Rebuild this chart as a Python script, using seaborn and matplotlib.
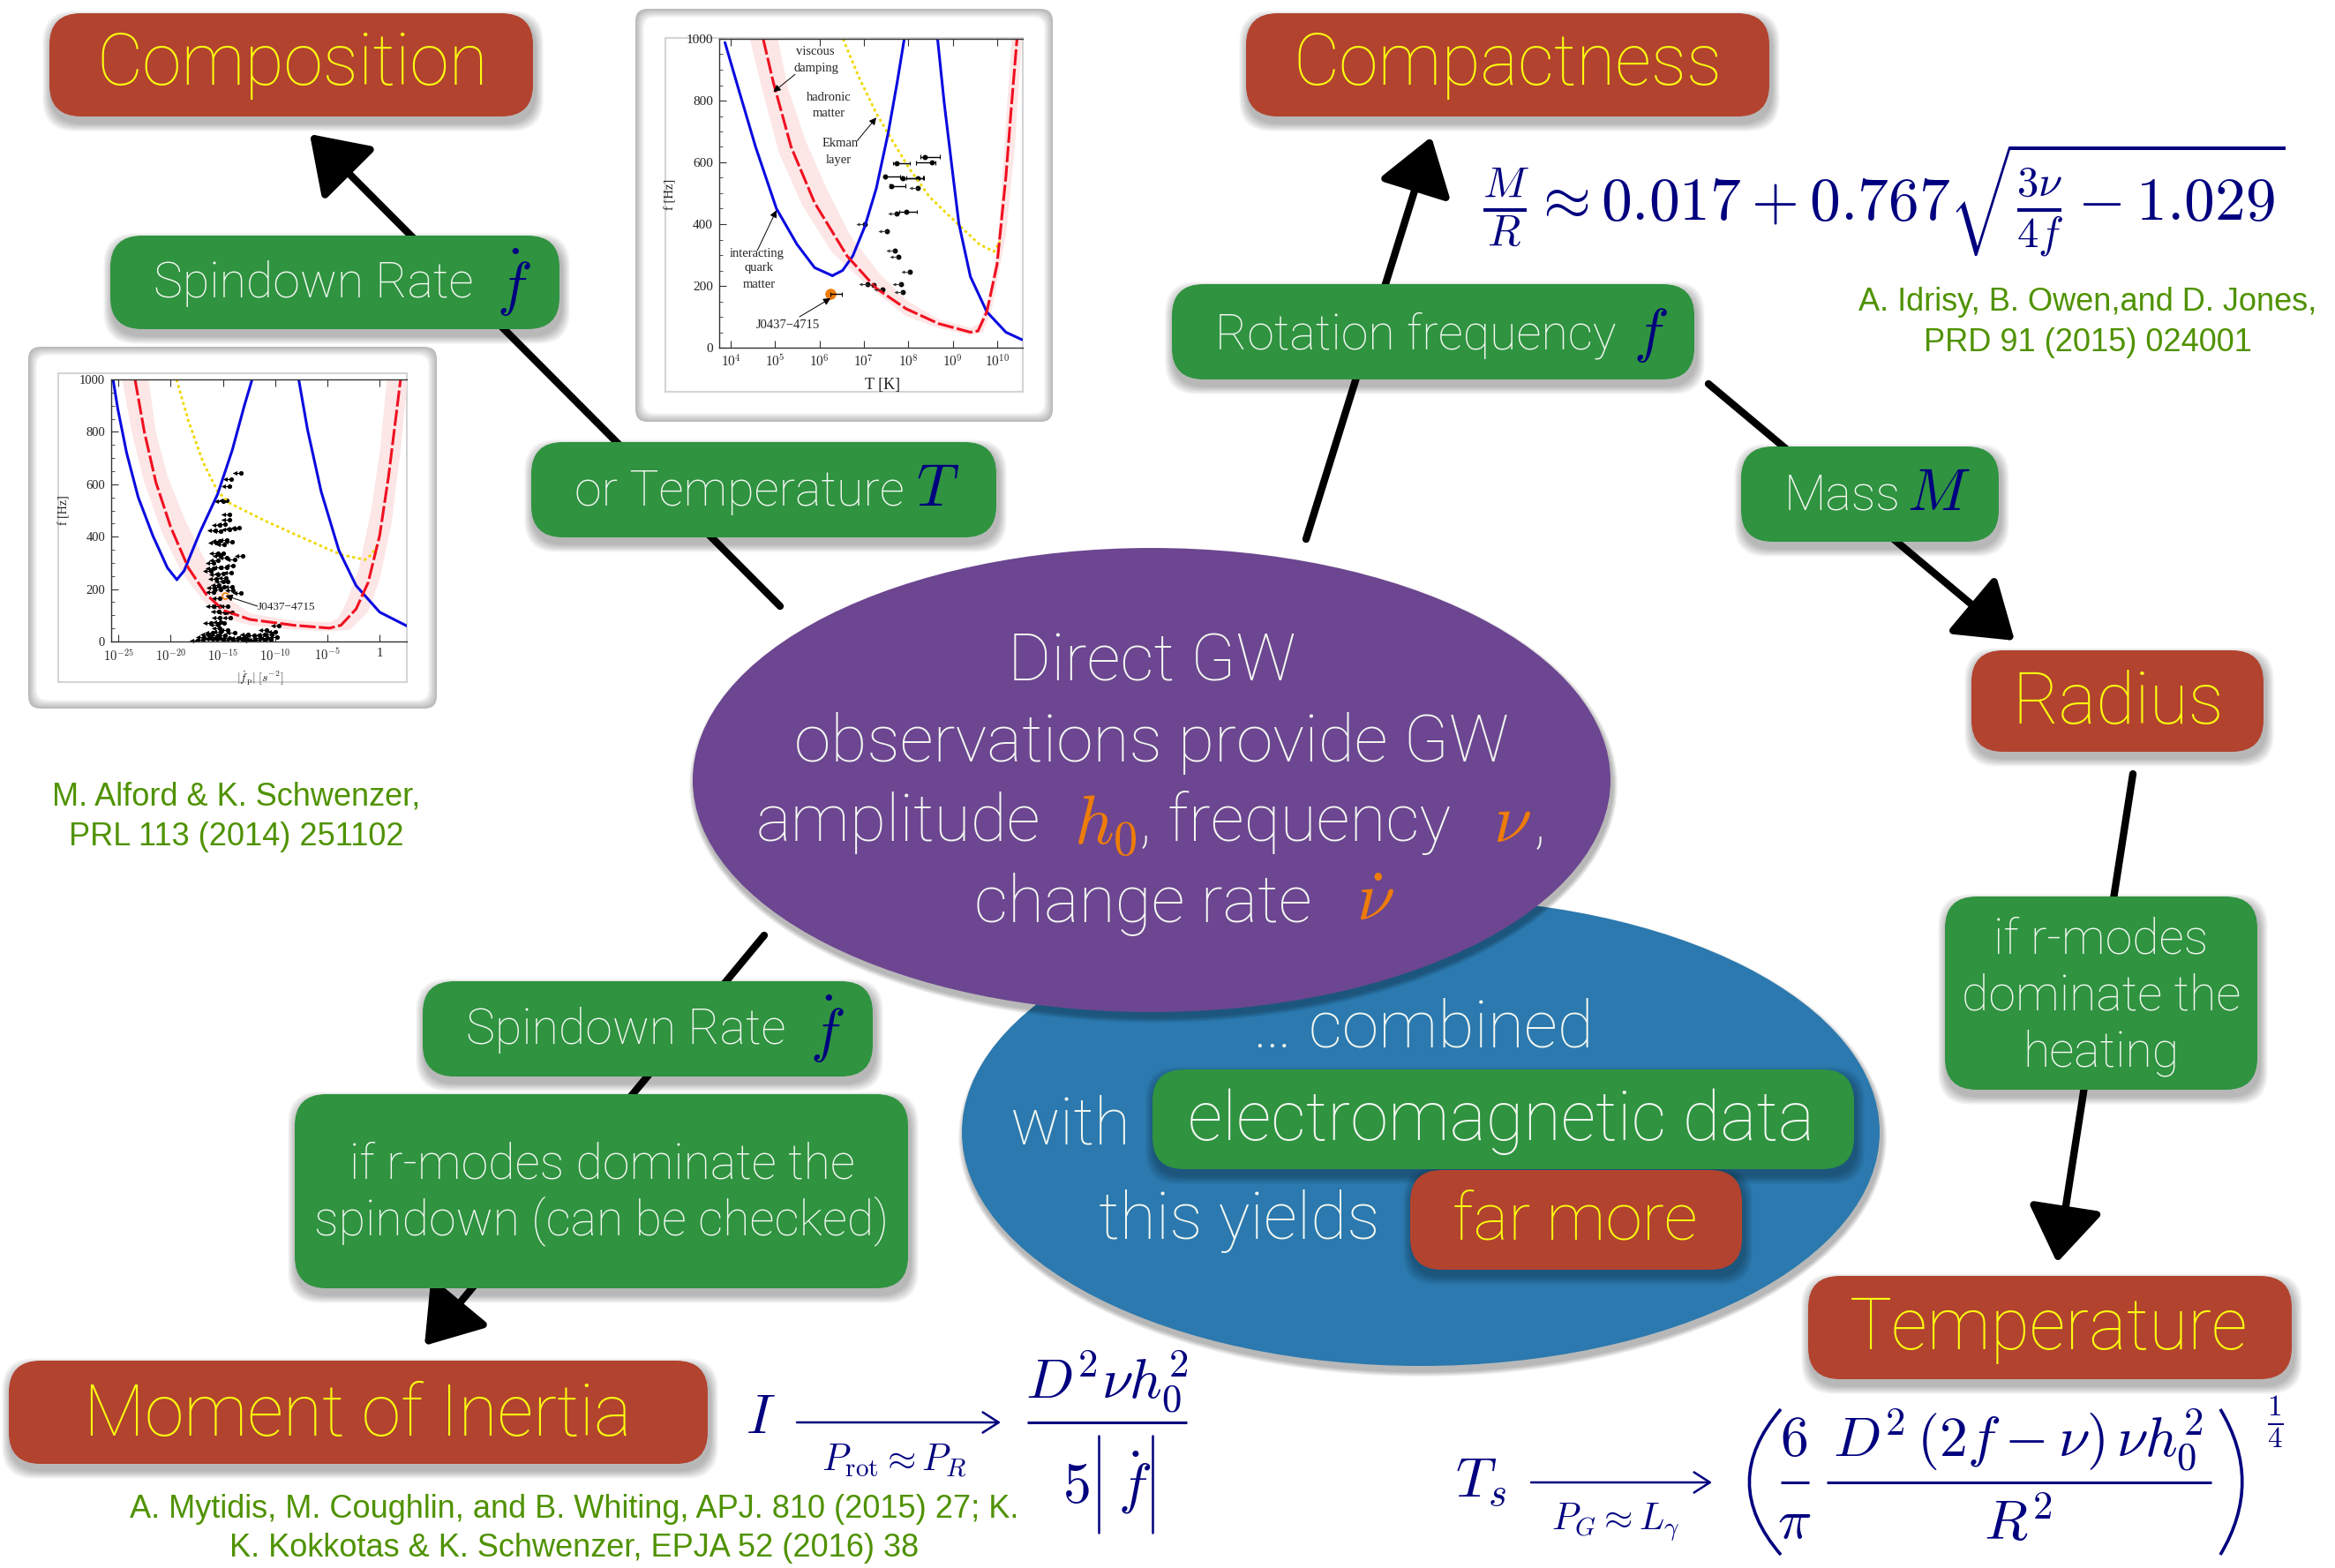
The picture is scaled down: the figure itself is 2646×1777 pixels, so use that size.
import matplotlib
matplotlib.use("Agg")
import numpy as np
import matplotlib.pyplot as plt
import seaborn as sns
from matplotlib.patches import FancyBboxPatch, Ellipse, FancyArrowPatch, PathPatch, Rectangle
from matplotlib.path import Path

# --- left plot: f vs |fdot| (log10 of x axis) ---
fd_blue_a_x = [-25.5, -25.05, -24.2, -23.1, -21.7, -20.3, -19.4]
fd_blue_a_y = [1000, 888, 719, 551, 404, 281, 236]
fd_blue_b_x = [-19.4, -18.7, -17.2, -15.5, -14.1, -12.95, -12.2]
fd_blue_b_y = [236, 270, 416, 562, 730, 899, 1000]
fd_blue_c_x = [-7.74, -6.9, -5.6, -3.9, -2.25, 0, 2.67]
fd_blue_c_y = [1000, 809, 573, 348, 213, 112, 58]
fd_red_x = [-23.4, -22.5, -21.4, -20, -18.3, -16.6, -14.9, -12.4, -8.2, -4.8, -3.7, -2.25, -1.1, 0, 0.85, 1.55, 2.0]
fd_red_y = [1000, 798, 607, 438, 281, 180, 118, 84, 62, 51, 62, 124, 225, 404, 629, 854, 1000]
fd_band_x = [-24.63, -23.65, -22.52, -20.83, -18.86, -16.89, -14.92, -12.39, -8.16, -4.79, -2.82, -1.13, 0, 1.13, 1.97, 2.67,
             0.7, 0, -0.84, -1.97, -3.1, -3.94, -4.79, -8.16, -12.39, -14.92, -16.61, -18.58, -20.27, -21.4, -22.1]
fd_band_y = [1000, 787, 607, 416, 258, 157, 90, 62, 45, 39, 45, 112, 236, 449, 719, 1000,
             1000, 719, 494, 281, 157, 90, 73, 79, 107, 180, 303, 461, 629, 798, 1000]
fd_yellow_x = [-19.43, -18.3, -16.9, -15.5, -14.35, -10.98, -8.16, -5.35, -3.66, -1.41, -0.79, -0.14]
fd_yellow_y = [1000, 843, 685, 573, 528, 461, 410, 360, 331, 312, 331, 371]
fd_pulsar_x = [-13.3, -14.2, -14.35, -14.6, -15.0, -14.4, -14.4, -14.8, -15.3, -13.4, -13.9, -14.4, -15.2, -15.7,
               -14.6, -14.1, -15.3, -15.6, -14.9, -15.0, -15.5, -15.2, -13.1, -14.6, -13.9, -15.5, -15.9, -14.0,
               -14.6, -15.2, -15.9, -16.1, -14.2, -15.0, -15.5, -14.7, -15.6, -15.0, -14.5, -15.4, -14.9, -14.1,
               -15.8, -13.3, -14.0, -15.2, -15.9, -15.3, -14.5, -15.3, -15.9, -14.8, -15.4, -14.1, -14.3, -15.3,
               -15.2, -14.9, -16.1, -15.5, -15.3, -9.6, -10.8, -10.0, -14.5, -15.2, -16.0, -16.4, -13.9, -15.5,
               -14.8, -16.8, -17.4, -16.9, -16.0, -15.0, -14.0, -13.1, -12.6, -12.0, -11.5, -11.0, -10.3, -11.4,
               -10.7, -12.7, -11.9, -11.0, -10.4, -9.8, -12.3, -15.6, -16.3, -15.3, -14.4, -13.5, -12.9]
fd_pulsar_y = [643, 621, 592, 539, 535, 486, 463, 449, 446, 436, 431, 427, 421, 425,
               388, 382, 384, 376, 372, 337, 337, 326, 326, 320, 312, 310, 298, 289,
               283, 283, 280, 268, 263, 260, 255, 243, 238, 228, 228, 215, 210, 208,
               205, 185, 195, 198, 188, 165, 135, 135, 135, 110, 113, 112, 90, 90,
               75, 72, 70, 65, 52, 62, 45, 38, 45, 38, 35, 28, 32, 25,
               22, 18, 5, 8, 10, 8, 6, 8, 27, 22, 25, 26, 28, 14,
               12, 10, 8, 8, 7, 18, 4, 14, 12, 15, 14, 14, 16]
fd_j0437 = (-14.75, 175)

# --- top plot: f vs T (log10 of x axis) ---
t_blue_a_x = [3.87, 4.17, 4.56, 5.03, 5.49, 5.89, 6.29]
t_blue_a_y = [988, 840, 650, 450, 335, 259, 233]
t_blue_b_x = [6.29, 6.52, 6.75, 7.02, 7.28, 7.55, 7.75, 7.91]
t_blue_b_y = [233, 250, 297, 392, 516, 697, 859, 1000]
t_blue_c_x = [8.66, 8.81, 9.01, 9.14, 9.4, 9.77, 10.2, 10.56]
t_blue_c_y = [1000, 792, 554, 402, 230, 116, 50, 26]
t_red_x = [4.73, 4.96, 5.36, 5.89, 6.62, 7.28, 7.95, 8.68, 9.4, 9.57, 9.77, 10.0, 10.2, 10.33, 10.45]
t_red_y = [1000, 859, 650, 469, 297, 192, 126, 78, 50, 54, 116, 269, 554, 792, 1000]
t_band_x = [4.43, 4.7, 5.09, 5.62, 6.29, 7.08, 7.95, 8.68, 9.4, 9.67, 9.87, 10.2, 10.4, 10.56,
            10.33, 10.2, 10.03, 9.84, 9.6, 9.4, 8.68, 7.95, 7.35, 6.69, 6.16, 5.69, 5.29, 5.06]
t_band_y = [1000, 840, 630, 459, 307, 202, 102, 64, 40, 50, 116, 364, 650, 1000,
            1000, 726, 364, 173, 78, 64, 92, 154, 240, 364, 516, 669, 840, 1000]
t_yellow_x = [6.53, 6.88, 7.28, 7.61, 8.01, 8.48, 9.14, 9.6, 9.93, 10.07]
t_yellow_y = [1000, 878, 759, 678, 583, 488, 397, 335, 311, 345]
t_range_x = [8.38, 7.73, 8.53, 7.48, 7.88, 8.21, 7.61, 7.95, 6.25]
t_range_y = [618, 597, 599, 554, 549, 549, 524, 440, 173]
t_range_lo = [8.28, 7.65, 8.18, 7.48, 7.85, 7.95, 7.58, 7.80, 6.25]
t_range_hi = [8.71, 8.03, 8.61, 7.81, 8.34, 8.36, 7.93, 8.20, 6.51]
t_limit_x = [8.21, 7.73, 7.03, 7.51, 7.69, 7.78, 8.03, 7.08, 7.22, 7.41, 7.83, 7.88]
t_limit_y = [516, 434, 400, 376, 313, 293, 245, 205, 202, 188, 205, 181]

f_ticks = [0, 200, 400, 600, 800, 1000]
fd_ticks = [-25, -20, -15, -10, -5, 0]
fd_tick_labels = ["$10^{-25}$", "$10^{-20}$", "$10^{-15}$", "$10^{-10}$", "$10^{-5}$", "1"]
t_ticks = [4, 5, 6, 7, 8, 9, 10]
t_tick_labels = ["$10^{4}$", "$10^{5}$", "$10^{6}$", "$10^{7}$", "$10^{8}$", "$10^{9}$", "$10^{10}$"]

W, H = 2646, 1777
RED = "#b2432f"
GREEN = "#2f9340"
PURPLE = "#6c4690"
BLUE = "#2b79ae"
YELLOW = "#fbfb10"
WHITE = "#f4f8f2"
NAVY = "#00007f"
CITE = "#4f9200"
ORANGE = "#ee7c0a"
CURVE_BLUE = "#0a0ae0"
CURVE_RED = "#f01020"
CURVE_YEL = "#f0d800"
BAND = "#fde6e6"

sns.set_theme(style="white")
plt.rcParams["font.family"] = ["Roboto", "DejaVu Sans"]
plt.rcParams["font.weight"] = "light"
plt.rcParams["mathtext.fontset"] = "cm"

fig = plt.figure(figsize=(W / 100, H / 100), dpi=100, facecolor="white")
main = fig.add_axes([0, 0, 1, 1])
main.set_xlim(0, W)
main.set_ylim(H, 0)
main.axis("off")


def shadow(make_patch, steps=6):
    # soft drop shadow from stacked translucent copies
    for i in range(steps):
        main.add_patch(make_patch(i, steps))


def box(x0, y0, x1, y1, color, z=5, r=36):
    def ghost(i, n):
        grow = (n - i) * 1.6
        return FancyBboxPatch((x0 - grow + 2, y0 - grow + 7), x1 - x0 + 2 * grow, y1 - y0 + 2 * grow,
                              boxstyle=f"round,pad=0,rounding_size={r}", fc="black", ec="none",
                              alpha=0.05, zorder=z - 0.5)
    shadow(ghost)
    main.add_patch(FancyBboxPatch((x0, y0), x1 - x0, y1 - y0, boxstyle=f"round,pad=0,rounding_size={r}",
                                  fc=color, ec="none", zorder=z))


def oval(cx, cy, w, h, color, z):
    def ghost(i, n):
        grow = (n - i) * 2.0
        return Ellipse((cx + 2, cy + 6), w + grow, h + grow, fc="black", ec="none", alpha=0.05, zorder=z - 0.5)
    shadow(ghost)
    main.add_patch(Ellipse((cx, cy), w, h, fc=color, ec="none", zorder=z))


def label(x, y, s, color=WHITE, size=40, ha="center", z=8, **kw):
    main.text(x, y, s, color=color, fontsize=size, ha=ha, va="center", zorder=z, **kw)


def arrow(x0, y0, x1, y1):
    main.add_patch(FancyArrowPatch((x0, y0), (x1, y1), arrowstyle="-|>,head_length=0.62,head_width=0.42",
                                   mutation_scale=62, lw=6, color="black", shrinkA=0, shrinkB=0, zorder=2))


def frame(x0, y0, x1, y1, ix0, iy0, ix1, iy1):
    # screenshot style rounded frame with a grey inner glow
    for i in range(10):
        g = 0.72 + 0.028 * i
        main.add_patch(FancyBboxPatch((x0 + i, y0 + i), x1 - x0 - 2 * i, y1 - y0 - 2 * i,
                                      boxstyle="round,pad=0,rounding_size=14", fc=(g, g, g), ec="none", zorder=1))
    main.add_patch(FancyBboxPatch((x0 + 10, y0 + 10), x1 - x0 - 20, y1 - y0 - 20,
                                  boxstyle="round,pad=0,rounding_size=10", fc="white", ec="none", zorder=1))
    main.add_patch(Rectangle((ix0, iy0), ix1 - ix0, iy1 - iy0, fc="white", ec="#d4d4d4", lw=1.5, zorder=1.2))


def px_axes(x0, y0, x1, y1):
    ax = fig.add_axes([x0 / W, 1 - y1 / H, (x1 - x0) / W, (y1 - y0) / H])
    ax.patch.set_alpha(0)
    return ax


def curve(ax, x, y, color, **kw):
    sns.lineplot(x=x, y=y, ax=ax, color=color, sort=False, estimator=None, legend=False, **kw)


def style_inset(ax, xlim, ticks, tick_labels, size):
    ax.set_xlim(*xlim)
    ax.set_ylim(0, 1000)
    ax.set_xticks(ticks, tick_labels)
    ax.set_yticks(f_ticks, [str(v) for v in f_ticks])
    ax.set_yticks(np.arange(0, 1001, 50), minor=True)
    ax.tick_params(axis="both", which="major", length=6, width=0.8, color="#333333", labelsize=size,
                   labelcolor="#222222", direction="in", pad=5, bottom=True, left=True, top=True)
    ax.tick_params(axis="y", which="minor", length=3, width=0.6, color="#333333", direction="in", left=True)
    for lab in ax.get_xticklabels() + ax.get_yticklabels():
        lab.set_family("Liberation Serif")
        lab.set_weight("normal")
    for side in ["left", "bottom", "top"]:
        ax.spines[side].set_visible(True)
        ax.spines[side].set_color("#333333")
        ax.spines[side].set_linewidth(1)
    ax.spines["right"].set_visible(False)
    ax.set_xlabel("")
    ax.set_ylabel("")


def serif(x, y, s, size=10.5, rotation=0):
    main.text(x, y, s, family="Liberation Serif", weight="normal", fontsize=size, color="#222222",
              ha="center", va="center", rotation=rotation, zorder=3)


def paren(x_out, x_in, y0, y1, lw=2.6):
    # tall bracket of the temperature formula
    ym = (y0 + y1) / 2
    verts = [(x_in, y0), (x_out - (x_in - x_out) * 0.55, ym), (x_in, y1)]
    main.add_patch(PathPatch(Path(verts, [Path.MOVETO, Path.CURVE3, Path.CURVE3]), fc="none", ec=NAVY, lw=lw, zorder=8))


def math_arrow(x0, x1, y):
    main.add_patch(FancyArrowPatch((x0, y), (x1, y), arrowstyle="->,head_length=0.5,head_width=0.32",
                                   mutation_scale=26, lw=1.8, color=NAVY, shrinkA=0, shrinkB=0, zorder=8))


def rule(x0, x1, y, lw=2.2):
    main.plot([x0, x1], [y, y], color=NAVY, lw=lw, zorder=8, solid_capstyle="butt")


# arrows sit under everything else
arrow(884, 687, 351, 152)
arrow(1480, 611, 1622, 155)
arrow(1936, 435, 2283, 726)
arrow(2417, 877, 2331, 1431)
arrow(866, 1060, 481, 1525)

oval(1610, 1283, 1040, 530, BLUE, 3)
oval(1305, 884, 1040, 526, PURPLE, 4)

# red topic boxes
box(56, 15, 604, 132, RED)
box(1412, 15, 2005, 132, RED)
box(2234, 737, 2565, 852, RED)
box(2049, 1446, 2597, 1563, RED)
box(10, 1542, 802, 1659, RED)
box(1598, 1326, 1974, 1439, RED, z=6)

# green quantity boxes
box(125, 267, 634, 373, GREEN)
box(602, 501, 1129, 609, GREEN)
box(1328, 322, 1920, 430, GREEN)
box(1973, 506, 2265, 614, GREEN)
box(2204, 1016, 2558, 1235, GREEN)
box(479, 1112, 989, 1220, GREEN)
box(334, 1240, 1029, 1460, GREEN)
box(1306, 1212, 2101, 1325, GREEN, z=6)

for x, y, s in [(331, 74, "Composition"), (1708, 74, "Compactness"), (2400, 798, "Radius"),
                (2322, 1507, "Temperature"), (405, 1605, "Moment of Inertia"), (1785, 1385, "far more")]:
    label(x, y, s, color=YELLOW, size=58 if s != "far more" else 54)

label(174, 322, "Spindown Rate", ha="left")
label(582, 320, r"$\dot{f}$", color=NAVY, size=48)
label(651, 557, "or Temperature", ha="left")
label(1063, 555, r"$T$", color=NAVY, size=48)
label(1377, 380, "Rotation frequency", ha="left")
label(1870, 380, r"$f$", color=NAVY, size=48)
label(2022, 562, "Mass", ha="left")
label(2197, 560, r"$M$", color=NAVY, size=48)
label(528, 1168, "Spindown Rate", ha="left")
label(937, 1166, r"$\dot{f}$", color=NAVY, size=48)
for y, s in [(1065, "if r-modes"), (1129, "dominate the"), (1193, "heating")]:
    label(2381, y, s)
label(682, 1320, "if r-modes dominate the")
label(682, 1384, "spindown (can be checked)")

# purple ellipse
label(1305, 751, "Direct GW", size=54)
label(1305, 842, "observations provide GW", size=54)
label(857, 933, "amplitude", size=54, ha="left")
label(1253, 935, r"$h_0$", color=ORANGE, size=56)
label(1291, 933, ", frequency", size=54, ha="left")
label(1713, 933, r"$\nu$", color=ORANGE, size=56)
label(1745, 933, ",", size=54)
label(1104, 1024, "change rate", size=54, ha="left")
label(1558, 1022, r"$\dot{\nu}$", color=ORANGE, size=56)

# blue ellipse
label(1612, 1166, "… combined", size=54)
label(1213, 1276, "with", size=54)
label(1701, 1271, "electromagnetic data", size=56)
label(1404, 1384, "this yields", size=54)

# citations
for x, y, s in [(268, 903, "M. Alford & K. Schwenzer,"), (268, 948, "PRL 113 (2014) 251102"),
                (2366, 343, "A. Idrisy, B. Owen,and D. Jones,"), (2366, 388, "PRD 91 (2015) 024001"),
                (651, 1711, "A. Mytidis, M. Coughlin, and B. Whiting, APJ. 810 (2015) 27; K."),
                (651, 1755, "K. Kokkotas & K. Schwenzer, EPJA 52 (2016) 38")]:
    main.text(x, y, s, color=CITE, fontsize=26, family="Liberation Sans", weight="normal",
              ha="center", va="center", zorder=8)

# formulas
label(2135, 228, r"$\frac{M}{R}\approx 0.017+0.767\sqrt{\frac{3\nu}{4f}-1.029}$", color=NAVY, size=50)

label(862, 1606, r"$I$", color=NAVY, size=46)
math_arrow(903, 1134, 1612)
label(1013, 1656, r"$P_{\mathrm{rot}}\approx P_R$", color=NAVY, size=30)
label(1254, 1566, r"$D^2\nu h_0^2$", color=NAVY, size=46)
rule(1164, 1345, 1612)
label(1254, 1680, r"$5\;\;\dot{f}$", color=NAVY, size=46)
main.plot([1245, 1245], [1627, 1737], color=NAVY, lw=1.8, zorder=8)
main.plot([1306, 1306], [1627, 1737], color=NAVY, lw=1.8, zorder=8)

label(1678, 1680, r"$T_s$", color=NAVY, size=46)
math_arrow(1735, 1940, 1680)
label(1831, 1725, r"$P_G\approx L_\gamma$", color=NAVY, size=30)
paren(1972, 2018, 1597, 1762)
paren(2548, 2502 + 14, 1597, 1762)
label(2033, 1632, r"$6$", color=NAVY, size=46)
rule(2018, 2050, 1680)
label(2033, 1725, r"$\pi$", color=NAVY, size=46)
label(2287, 1632, r"$D^2\,(2f-\nu)\,\nu h_0^2$", color=NAVY, size=46)
rule(2070, 2506, 1680)
label(2287, 1728, r"$R^2$", color=NAVY, size=46)
label(2578, 1612, r"$\frac{1}{4}$", color=NAVY, size=34)

# left plot
frame(32, 393, 495, 803, 66, 423, 461, 773)
ax1 = px_axes(126, 430, 461, 727)
ax1.fill(fd_band_x, fd_band_y, color=BAND, lw=0)
curve(ax1, fd_yellow_x, fd_yellow_y, CURVE_YEL, lw=2, linestyle=(0, (1.2, 1.2)))
curve(ax1, fd_blue_a_x, fd_blue_a_y, CURVE_BLUE, lw=2.2)
curve(ax1, fd_blue_b_x, fd_blue_b_y, CURVE_BLUE, lw=2.2)
curve(ax1, fd_blue_c_x, fd_blue_c_y, CURVE_BLUE, lw=2.2)
curve(ax1, fd_red_x, fd_red_y, CURVE_RED, lw=2.2, linestyle=(0, (6, 1.2)))
ax1.hlines(fd_pulsar_y, np.array(fd_pulsar_x) - 0.7, fd_pulsar_x, color="black", lw=0.8)
sns.scatterplot(x=np.array(fd_pulsar_x) - 0.6, y=fd_pulsar_y, ax=ax1, marker="<", s=14, color="black", lw=0, clip_on=False)
sns.scatterplot(x=fd_pulsar_x, y=fd_pulsar_y, ax=ax1, s=14, color="black", lw=0)
ax1.plot(*fd_j0437, "o", mfc="none", mec=ORANGE, mew=1.2, ms=5)
style_inset(ax1, (-25.68, 2.6), fd_ticks, fd_tick_labels, 10.5)
ax1.annotate("", xy=fd_j0437, xytext=(-11.7, 135), arrowprops=dict(arrowstyle="-|>", color="black", lw=0.7, shrinkA=0, shrinkB=0))
serif(325, 688, "J0437−4715", size=9.5)
serif(73, 578, "f [Hz]", size=10, rotation=90)
serif(295, 769, r"$|\dot{f}_{\rm p}|\;[s^{-2}]$", size=10)

# top plot
frame(720, 10, 1193, 478, 754, 43, 1159, 444)
ax2 = px_axes(815, 44, 1159, 394)
ax2.fill(t_band_x, t_band_y, color=BAND, lw=0)
curve(ax2, t_yellow_x, t_yellow_y, CURVE_YEL, lw=2, linestyle=(0, (1.2, 1.2)))
curve(ax2, t_blue_a_x, t_blue_a_y, CURVE_BLUE, lw=2.2)
curve(ax2, t_blue_b_x, t_blue_b_y, CURVE_BLUE, lw=2.2)
curve(ax2, t_blue_c_x, t_blue_c_y, CURVE_BLUE, lw=2.2)
curve(ax2, t_red_x, t_red_y, CURVE_RED, lw=2.2, linestyle=(0, (6, 1.2)))
ax2.plot(t_range_x[-1], t_range_y[-1], "o", color=ORANGE, ms=8)
ax2.hlines(t_range_y, t_range_lo, t_range_hi, color="black", lw=1)
ax2.vlines(t_range_lo, np.array(t_range_y) - 7, np.array(t_range_y) + 7, color="black", lw=0.8)
ax2.vlines(t_range_hi, np.array(t_range_y) - 7, np.array(t_range_y) + 7, color="black", lw=0.8)
sns.scatterplot(x=t_range_x, y=t_range_y, ax=ax2, s=18, color="black", lw=0)
ax2.hlines(t_limit_y, np.array(t_limit_x) - 0.18, t_limit_x, color="#333333", lw=0.7)
sns.scatterplot(x=np.array(t_limit_x) - 0.16, y=t_limit_y, ax=ax2, marker="<", s=8, color="#333333", lw=0)
sns.scatterplot(x=t_limit_x, y=t_limit_y, ax=ax2, s=18, color="black", lw=0)
style_inset(ax2, (3.74, 10.58), t_ticks, t_tick_labels, 11)
for xy, xytext in [((4.96, 828), (5.45, 885)), ((7.28, 745), (6.85, 670)), ((5.03, 445), (4.6, 315)), ((6.25, 160), (5.55, 100))]:
    ax2.annotate("", xy=xy, xytext=xytext, arrowprops=dict(arrowstyle="-|>", color="black", lw=0.7, shrinkA=0, shrinkB=0))
for x, y, s in [(924, 59, "viscous"), (925, 77, "damping"), (939, 111, "hadronic"), (939, 128, "matter"),
                (952, 163, "Ekman"), (950, 181, "layer"), (858, 287, "interacting"), (860, 304, "quark"),
                (860, 322, "matter"), (893, 368, "J0437−4715")]:
    serif(x, y, s)
serif(1000, 436, "T [K]", size=13)
serif(760, 220, "f [Hz]", size=10.5, rotation=90)

fig.savefig("out.png", dpi=100)
